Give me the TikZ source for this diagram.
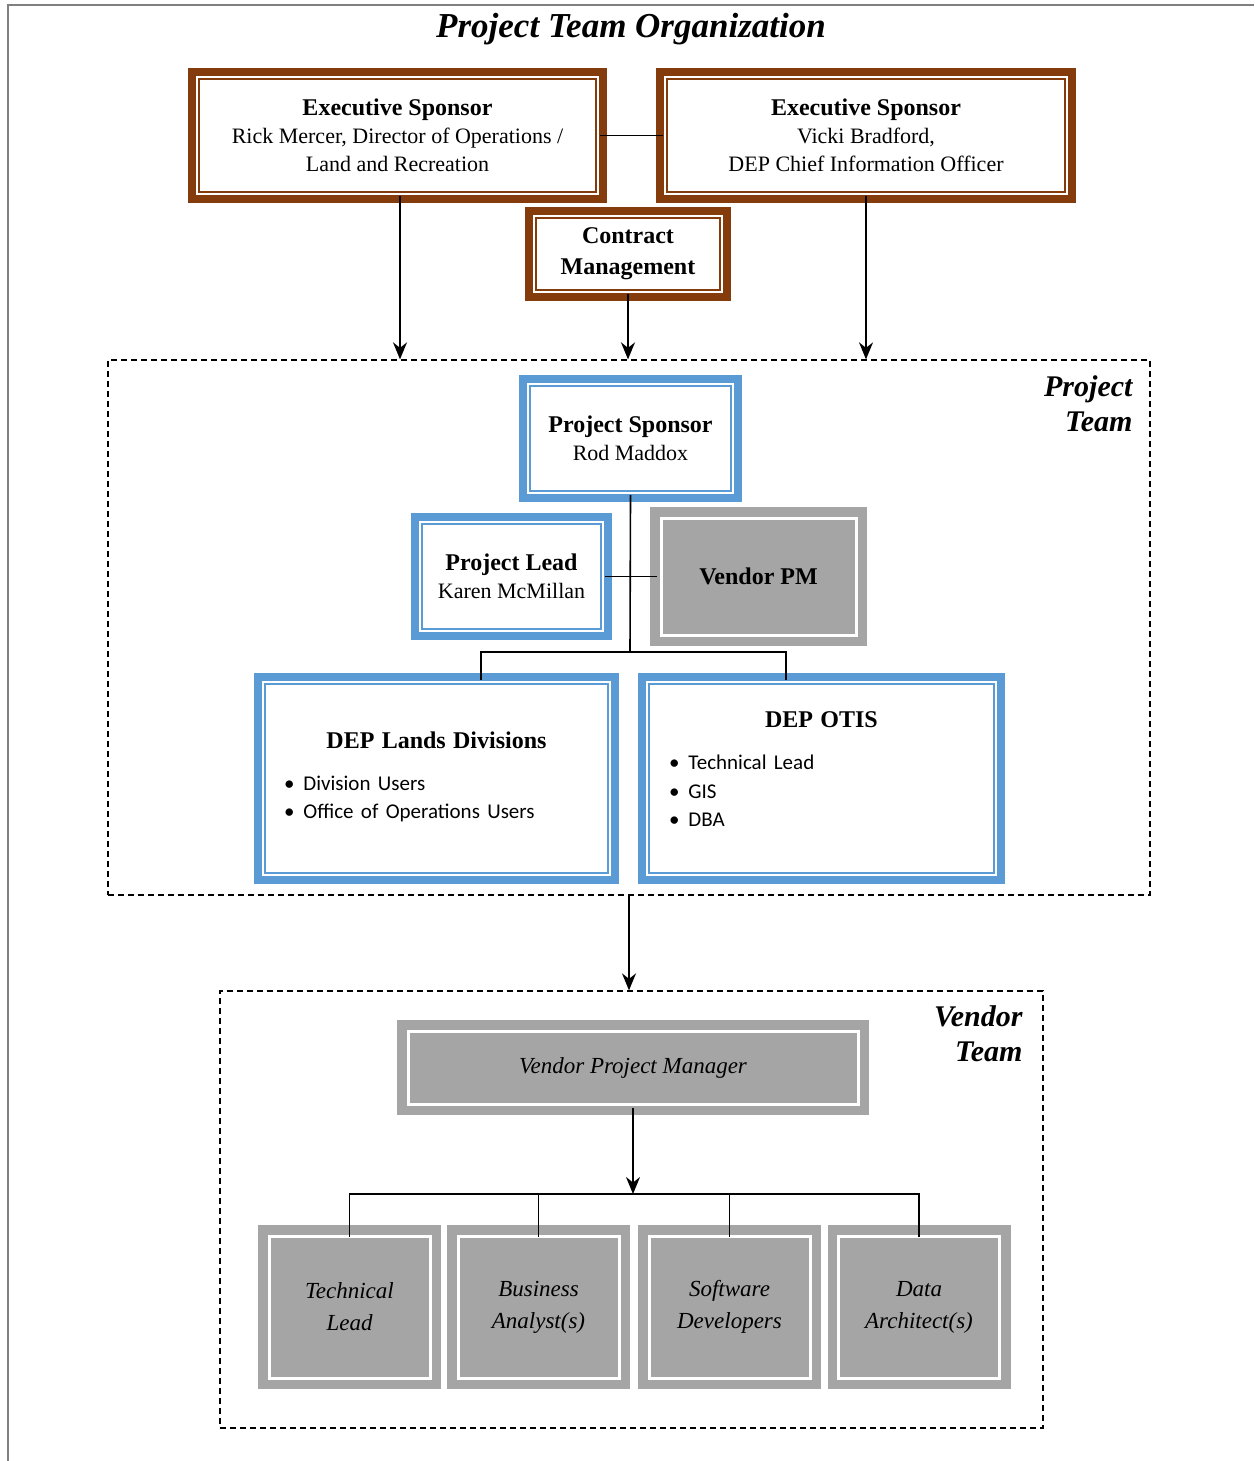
\documentclass[tikz,border=0pt]{standalone}
\usepackage{fontspec}
\setmainfont{Liberation Serif}
\newfontfamily\calib{Carlito}
\usetikzlibrary{positioning, arrows.meta}
\definecolor{exbrown}{HTML}{843C0C}
\definecolor{ptblue}{HTML}{5B9BD5}
\definecolor{vdgray}{HTML}{A5A5A5}
\newcommand\headfont{\fontsize{24}{28}\selectfont\bfseries}
\newcommand\listfont{\calib\fontsize{21}{27}\selectfont}
\newcommand\itm{\textbullet\hspace{9pt}}
\tikzset{
x=1pt, y=-1pt, % one unit = one pixel of the page, y runs down
>={Stealth[length=17pt,width=14pt]}, % filled arrow heads
every node/.style={inner sep=0pt, align=center, font=\fontsize{22}{28}\selectfont},
link/.style={line width=1.6pt},
frame/.style={rectangle, draw=#1, line width=8pt},
inline/.style={path picture={\draw[#1]
  ([xshift=7pt,yshift=7pt]path picture bounding box.south west) rectangle
  ([xshift=-7pt,yshift=-7pt]path picture bounding box.north east);}},
brownbox/.style={frame=exbrown, fill=white, inline={exbrown, line width=2.2pt}},
bluebox/.style={frame=ptblue, fill=white, inline={ptblue, line width=2.2pt}},
graybox/.style={frame=vdgray, fill=vdgray, inline={white, line width=3pt}},
teambox/.style={draw, line width=1.3pt, dash pattern=on 6pt off 4pt},
teamlabel/.style={font=\fontsize{30}{35}\selectfont\bfseries\itshape, align=right},
staff/.style={graybox, minimum width=175pt, minimum height=156pt, font=\fontsize{23}{32}\selectfont\itshape},
}
\begin{document}
\begin{tikzpicture}
\useasboundingbox (0,0) rectangle (1254,1461);
\draw[gray, line width=2pt] (1254,5) -- (8,5) -- (8,1461);

\node[font=\fontsize{35}{38}\selectfont\bfseries\itshape] (title) at (631,29) {Project Team Organization};

% sponsors
\node[brownbox, minimum width=411pt, minimum height=127pt] (exL) at (397.5,135.5)
  {{\headfont Executive Sponsor}\\Rick Mercer, Director of Operations /\\Land and Recreation};
\node[brownbox, minimum width=412pt, minimum height=127pt] (exR) at (866,135.5)
  {{\headfont Executive Sponsor}\\Vicki Bradford,\\DEP Chief Information Officer};
\node[brownbox, minimum width=198pt, minimum height=86pt, font=\fontsize{24}{31}\selectfont\bfseries] (contract) at (628,254)
  {Contract\\Management};

% project team
\node[teambox, minimum width=1042pt, minimum height=535pt] (pteam) at (629,627.5) {};
\node[teamlabel, below left=16pt and 18pt of pteam.north east] (ptlabel) {Project\\Team};

\node[bluebox, minimum width=215pt, minimum height=119pt] (psponsor) at (630.5,438.5)
  {{\headfont Project Sponsor}\\Rod Maddox};
\node[bluebox, minimum width=193pt, minimum height=119pt] (plead) at (511.5,576.5)
  {{\headfont Project Lead}\\Karen McMillan};
\node[graybox, minimum width=209pt, minimum height=131pt, font=\headfont] (vpm) at (758.5,576.5)
  {Vendor PM};

\node[bluebox, minimum width=357pt, minimum height=203pt, text width=305pt, align=left] (lands) at (436.5,778.5)
  {{\centering\headfont DEP Lands Divisions\par}\vspace{15pt}\raggedright\listfont
   \itm Division Users\\\itm Office of Operations Users\rule[-7pt]{0pt}{7pt}};
\node[bluebox, minimum width=359pt, minimum height=203pt, text width=305pt, align=left] (otis) at (821.5,778.5)
  {{\centering\headfont DEP OTIS\par}\vspace{15pt}\raggedright\listfont
   \itm Technical Lead\\[2pt]\itm GIS\\\itm DBA\rule[-19pt]{0pt}{19pt}};

% vendor team
\node[teambox, minimum width=823pt, minimum height=437pt] (vteam) at (631.5,1209.5) {};
\node[teamlabel, below left=15pt and 21pt of vteam.north east] (vtlabel) {Vendor\\Team};

\node[graybox, minimum width=464pt, minimum height=87pt, font=\fontsize{23}{28}\selectfont\itshape] (vmgr) at (633,1067.5)
  {Vendor Project Manager};
\node[staff] (tlead) at (349.5,1307) {Technical\\Lead};
\node[staff] (analyst) at (538.5,1307) {Business\\Analyst(s)};
\node[staff] (devs) at (729.5,1307) {Software\\Developers};
\node[staff] (archs) at (919,1307) {Data\\Architect(s)};

% connectors
\draw[link] ([xshift=-7pt]exL.east) -- ([xshift=7pt]exR.west);
\draw[link,->] ([xshift=2.5pt,yshift=7pt]exL.south) -- ([xshift=2.5pt]exL.south |- pteam.north);
\draw[link,->] ([yshift=7pt]contract.south) -- (contract.south |- pteam.north);
\draw[link,->] ([yshift=7pt]exR.south) -- (exR.south |- pteam.north);

\coordinate (pbus) at (630,652);
\coordinate (landsin) at ([xshift=44.5pt,yshift=-7pt]lands.north);
\coordinate (otisin) at ([xshift=-35.5pt,yshift=-7pt]otis.north);
\draw[link] ([yshift=7pt]psponsor.south) -- (pbus);
\draw[link] (landsin) -- (landsin |- pbus) -- (otisin |- pbus) -- (otisin);
\draw[link] ([xshift=-7pt]plead.east) -- ([xshift=7pt]vpm.west);

\draw[link,->] (pteam.south) -- (pteam.south |- vteam.north);

\coordinate (vbus) at (633,1194);
\draw[link,->] ([yshift=7pt]vmgr.south) -- (vbus);
\draw[link] ([yshift=-12pt]tlead.north) -- (tlead.north |- vbus) -- (archs.north |- vbus) -- ([yshift=-12pt]archs.north);
\foreach \n in {analyst, devs}
  \draw[link] ([yshift=-12pt]\n.north) -- (\n.north |- vbus);
\end{tikzpicture}
\end{document}
